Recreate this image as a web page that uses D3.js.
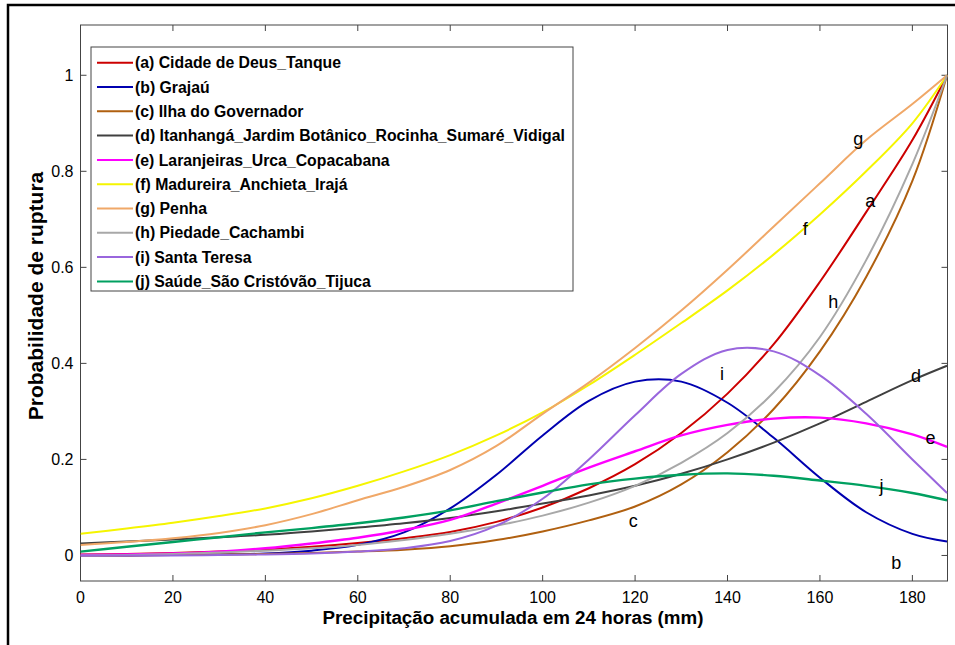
<!DOCTYPE html>
<html><head><meta charset="utf-8">
<script src="https://cdn.jsdelivr.net/npm/d3@7"></script>
<style>body{margin:0;background:#fff}svg{display:block}</style>
</head><body>
<svg id="c" width="955" height="645"></svg>
<script>
const xs = [0,10,20,30,40,50,60,70,80,90,100,110,120,130,140,150,160,170,180,187.5];
const keys = ["a","b","c","d","e","f","g","h","i","j"];
const names = ["(a) Cidade de Deus_Tanque","(b) Grajaú","(c) Ilha do Governador",
 "(d) Itanhangá_Jardim Botânico_Rocinha_Sumaré_Vidigal","(e) Laranjeiras_Urca_Copacabana",
 "(f) Madureira_Anchieta_Irajá","(g) Penha","(h) Piedade_Cachambi","(i) Santa Teresa",
 "(j) Saúde_São Cristóvão_Tijuca"];
const colors = ["#cc0000","#0000b0","#b06010","#404040","#ff00ff","#f5f500","#f0a868","#a8a8a8","#9966dd","#00a060"];
const serA = [0.002,0.003,0.005,0.008,0.012,0.018,0.026,0.036,0.049,0.07,0.1,0.14,0.19,0.255,0.337,0.44,0.57,0.715,0.865,1.0];
const serB = [0,0,0.001,0.002,0.004,0.01,0.022,0.048,0.098,0.168,0.25,0.322,0.362,0.362,0.318,0.245,0.162,0.09,0.045,0.029];
const serC = [0,0,0.001,0.002,0.003,0.005,0.008,0.012,0.019,0.032,0.05,0.073,0.102,0.148,0.215,0.305,0.425,0.58,0.78,1.0];
const serD = [0.025,0.029,0.033,0.038,0.043,0.05,0.058,0.067,0.078,0.092,0.108,0.125,0.145,0.17,0.2,0.235,0.275,0.32,0.365,0.395];
const serE = [0.001,0.002,0.004,0.008,0.015,0.025,0.037,0.053,0.074,0.108,0.145,0.183,0.217,0.25,0.272,0.285,0.287,0.275,0.252,0.226];
const serF = [0.045,0.056,0.068,0.082,0.098,0.119,0.145,0.175,0.209,0.25,0.298,0.355,0.418,0.484,0.552,0.627,0.71,0.8,0.9,1.0];
const serG = [0.022,0.028,0.036,0.047,0.063,0.086,0.115,0.143,0.178,0.228,0.295,0.36,0.432,0.51,0.595,0.685,0.775,0.865,0.94,1.0];
const serH = [0,0.001,0.003,0.006,0.01,0.015,0.022,0.032,0.045,0.062,0.083,0.11,0.145,0.193,0.255,0.34,0.455,0.615,0.815,1.0];
const serI = [0,0,0,0.001,0.002,0.004,0.008,0.015,0.03,0.062,0.118,0.2,0.292,0.378,0.428,0.425,0.375,0.295,0.2,0.13];
const serJ = [0.008,0.018,0.028,0.038,0.048,0.057,0.067,0.079,0.094,0.113,0.131,0.148,0.16,0.168,0.171,0.166,0.156,0.145,0.13,0.115];
const series = [serA,serB,serC,serD,serE,serF,serG,serH,serI,serJ];
const labelX = [170.9,176.5,119.6,180.8,183.9,156.8,168.3,162.9,138.8,173.3];
const labelY = [0.738,-0.016,0.072,0.375,0.246,0.680,0.867,0.529,0.379,0.146];
const xTicks = [0,20,40,60,80,100,120,140,160,180];
const yTicks = [0,0.2,0.4,0.6,0.8,1];

const svg = d3.select("#c");
const L=80.5, R=947.5, T=25, B=581;
const x = d3.scaleLinear().domain([0,187.6]).range([L,R]);
const y = d3.scaleLinear().domain([-0.0532,1.1047]).range([B,T]);
const font = "Arial, 'Liberation Sans', sans-serif";
const axc = "#444";

svg.append("path").attr("d","M8,645 L8,5 L955,5").attr("fill","none").attr("stroke","#000").attr("stroke-width",2.5);

svg.append("rect").attr("x",L).attr("y",T).attr("width",R-L).attr("height",B-T)
  .attr("fill","#fff").attr("stroke",axc).attr("stroke-width",1);

const g = svg.append("g");
xTicks.forEach(t=>{
  g.append("line").attr("x1",x(t)).attr("x2",x(t)).attr("y1",B).attr("y2",B-6).attr("stroke",axc);
  g.append("line").attr("x1",x(t)).attr("x2",x(t)).attr("y1",T).attr("y2",T+6).attr("stroke",axc);
  g.append("text").attr("x",x(t)).attr("y",B+22).attr("text-anchor","middle")
   .attr("font-family",font).attr("font-size",16).text(t);
});
yTicks.forEach(t=>{
  g.append("line").attr("x1",L).attr("x2",L+6).attr("y1",y(t)).attr("y2",y(t)).attr("stroke",axc);
  g.append("line").attr("x1",R).attr("x2",R-6).attr("y1",y(t)).attr("y2",y(t)).attr("stroke",axc);
  g.append("text").attr("x",L-7).attr("y",y(t)).attr("dy","0.36em").attr("text-anchor","end")
   .attr("font-family",font).attr("font-size",16).text(d3.format("~g")(t));
});

svg.append("clipPath").attr("id","clp").append("rect")
  .attr("x",L).attr("y",T).attr("width",R-L).attr("height",B-T);

const line = d3.line().x((d,i)=>x(xs[i])).y(d=>y(d)).curve(d3.curveCatmullRom.alpha(0.5));
series.forEach((s,k)=>{
  svg.append("path").attr("d",line(s)).attr("fill","none").attr("stroke",colors[k])
    .attr("stroke-width",(k===4||k===9)?2.4:2).attr("clip-path","url(#clp)");
});

keys.forEach((k,i)=>{
  svg.append("text").attr("x",x(labelX[i])).attr("y",y(labelY[i])).attr("dy","0.35em")
   .attr("text-anchor","middle").attr("font-family",font).attr("font-size",18).text(k);
});

const lg = svg.append("g");
lg.append("rect").attr("x",91).attr("y",47).attr("width",482).attr("height",244)
  .attr("fill","#fff").attr("stroke",axc).attr("stroke-width",1);
names.forEach((n,i)=>{
  const yy = 62.7 + i*24.3;
  lg.append("line").attr("x1",97).attr("x2",133).attr("y1",yy).attr("y2",yy)
    .attr("stroke",colors[i]).attr("stroke-width",2);
  lg.append("text").attr("x",135).attr("y",yy).attr("dy","0.36em")
    .attr("font-family",font).attr("font-weight","bold").attr("font-size",15.8).text(n);
});

svg.append("text").attr("x",(L+R)/2 - 1).attr("y",624).attr("text-anchor","middle")
  .attr("font-family",font).attr("font-weight","bold").attr("font-size",18.8)
  .text("Precipitação acumulada em 24 horas (mm)");
svg.append("text").attr("transform","translate(43,296) rotate(-90)").attr("text-anchor","middle")
  .attr("font-family",font).attr("font-weight","bold").attr("font-size",21)
  .text("Probabilidade de ruptura");
</script>
</body></html>
